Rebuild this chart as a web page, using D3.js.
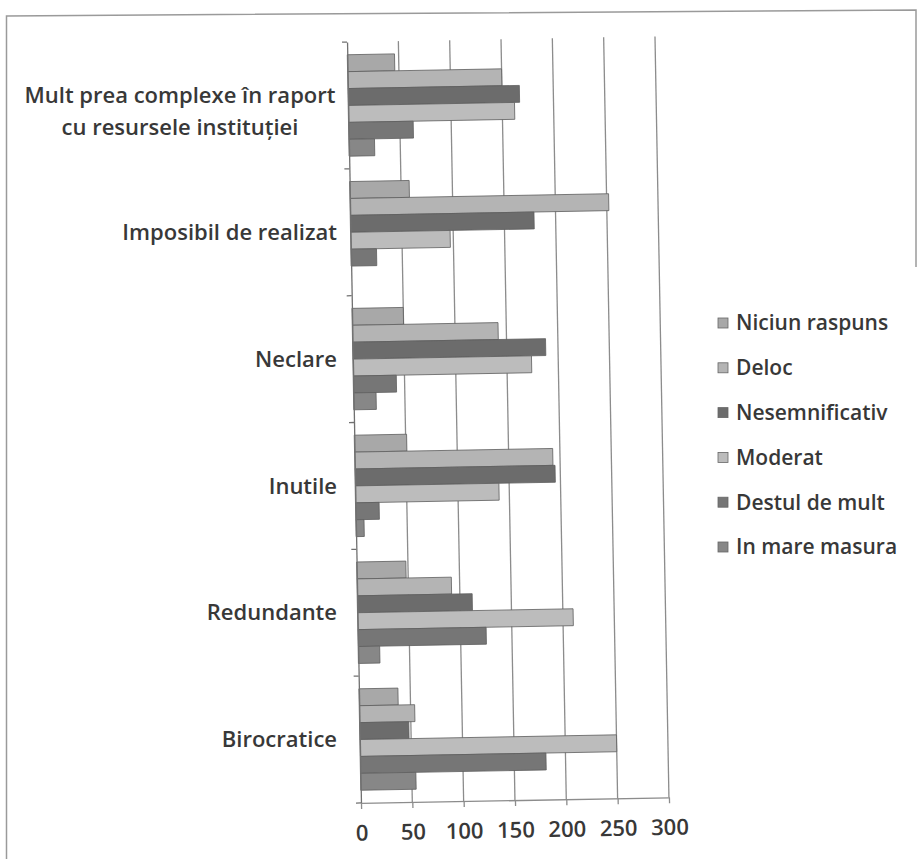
<!DOCTYPE html>
<html>
<head>
<meta charset="utf-8">
<script src="https://cdn.jsdelivr.net/npm/d3@7"></script>
<style>
    body { margin: 0; background: #fff; }
    text { font-family: "Open Sans", "Noto Sans", sans-serif; fill: #383838; }
</style>
</head>
<body>
<svg id="chart" width="920" height="859"></svg>
<script>
// categories, top to bottom as they appear on the chart
var categories = [
    "Mult prea complexe în raport|cu resursele instituției",
    "Imposibil de realizat",
    "Neclare",
    "Inutile",
    "Redundante",
    "Birocratice"
];
var seriesNames = ["Niciun raspuns", "Deloc", "Nesemnificativ", "Moderat", "Destul de mult", "In mare masura"];
var niciunRaspuns = [46, 58, 50, 51, 48, 38];
var deloc = [150, 252, 142, 193, 92, 54];
var nesemnificativ = [167, 179, 188, 195, 112, 48];
var moderat = [162, 97, 174, 140, 210, 250];
var destulDeMult = [63, 25, 42, 23, 125, 181];
var inMareMasura = [25, 0, 22, 8, 21, 54];
var xTicks = [0, 50, 100, 150, 200, 250, 300];

var seriesValues = [niciunRaspuns, deloc, nesemnificativ, moderat, destulDeMult, inMareMasura];
var colors = ["#a8a8a8", "#b4b4b4", "#6c6c6c", "#bcbcbc", "#767676", "#878787"];

var svg = d3.select("#chart");

// scanned page frame
svg.append("path")
    .attr("d", "M6.5,859 L6.5,16 L916,10 L916,267")
    .attr("fill", "none")
    .attr("stroke", "#9a9a9a")
    .attr("stroke-width", 1.5);

var x = d3.scaleLinear().domain([0, 300]).range([354, 662]);
var y = d3.scaleBand().domain(categories).range([42, 803])
    .paddingInner(0.2).paddingOuter(0.1);
var ySub = d3.scaleBand().domain(seriesNames).range([0, y.bandwidth()]);

// the scan is tilted by about a degree
var plot = svg.append("g").attr("transform", "rotate(-1.05,354,422)");

plot.selectAll("line.grid")
    .data(xTicks.slice(1))
    .enter()
    .append("line")
    .attr("class", "grid")
    .attr("x1", d => x(d)).attr("x2", d => x(d))
    .attr("y1", 42).attr("y2", 803)
    .attr("stroke", "#8c8c8c")
    .attr("stroke-width", 1.3);

var groups = plot.selectAll("g.series")
    .data(seriesNames)
    .enter()
    .append("g")
    .attr("class", "series")
    .attr("fill", (d, i) => colors[i]);

groups.selectAll("rect")
    .data((s, i) => seriesValues[i].map((v, j) => ({ s: s, cat: categories[j], v: v })))
    .enter()
    .append("rect")
    .attr("x", x(0))
    .attr("y", d => y(d.cat) + ySub(d.s))
    .attr("width", d => x(d.v) - x(0))
    .attr("height", ySub.bandwidth())
    .attr("stroke", d => d.v > 0 ? "#5e5e5e" : "none")
    .attr("stroke-width", 0.8);

// axes
var yAxis = plot.append("g")
    .attr("transform", `translate(${x(0)},0)`)
    .call(d3.axisLeft(y).tickValues([]).tickSizeOuter(0));
var boundaries = categories.map(c => y(c) - y.step() * y.paddingInner() / 2)
    .concat([y.range()[1]]);
yAxis.selectAll("line.bnd")
    .data(boundaries)
    .enter()
    .append("line")
    .attr("class", "bnd")
    .attr("x1", -5).attr("x2", 0)
    .attr("y1", d => d).attr("y2", d => d);
yAxis.selectAll("path, line").attr("stroke", "#707070").attr("stroke-width", 1.3);

var xAxis = plot.append("g")
    .attr("transform", "translate(0,803)")
    .call(d3.axisBottom(x).tickValues(xTicks).tickSize(6).tickSizeOuter(0).tickPadding(16));
xAxis.select(".domain").attr("stroke", "#8c8c8c").attr("stroke-width", 1.3);
xAxis.selectAll(".tick line").attr("stroke", "#8c8c8c").attr("stroke-width", 1.3);
xAxis.selectAll(".tick text")
    .style("font-family", "\"Open Sans\", sans-serif")
    .style("font-size", "22px")
    .style("font-weight", 600)
    .attr("fill", "#383838");

// category labels
var catLabels = svg.selectAll("text.cat")
    .data(categories)
    .enter()
    .append("text")
    .attr("class", "cat")
    .style("font-size", "22px")
    .style("font-weight", 600);
catLabels.each(function (d) {
    var lines = d.split("|");
    var t = d3.select(this);
    var cy = y(d) + y.bandwidth() / 2;
    if (lines.length > 1) {
        t.attr("text-anchor", "middle");
        lines.forEach((ln, k) => {
            t.append("tspan")
                .attr("x", 180)
                .attr("y", cy + 6 + (k - (lines.length - 1) / 2) * 32)
                .attr("dy", "0.35em")
                .text(ln);
        });
    } else {
        t.attr("text-anchor", "end")
            .attr("x", 337)
            .attr("y", cy)
            .attr("dy", "0.35em")
            .text(ln => ln);
    }
});

// legend
var legend = svg.selectAll("g.legend")
    .data(seriesNames)
    .enter()
    .append("g")
    .attr("class", "legend")
    .attr("transform", (d, i) => `translate(718,${323 + i * 44.8})`);
legend.append("rect")
    .attr("x", 0).attr("y", -5)
    .attr("width", 10).attr("height", 10)
    .attr("fill", (d, i) => colors[i])
    .attr("stroke", "#666")
    .attr("stroke-width", 0.8);
legend.append("text")
    .attr("x", 18)
    .attr("dy", "0.35em")
    .style("font-size", "21px")
    .style("font-weight", 600)
    .text(d => d);
</script>
</body>
</html>
